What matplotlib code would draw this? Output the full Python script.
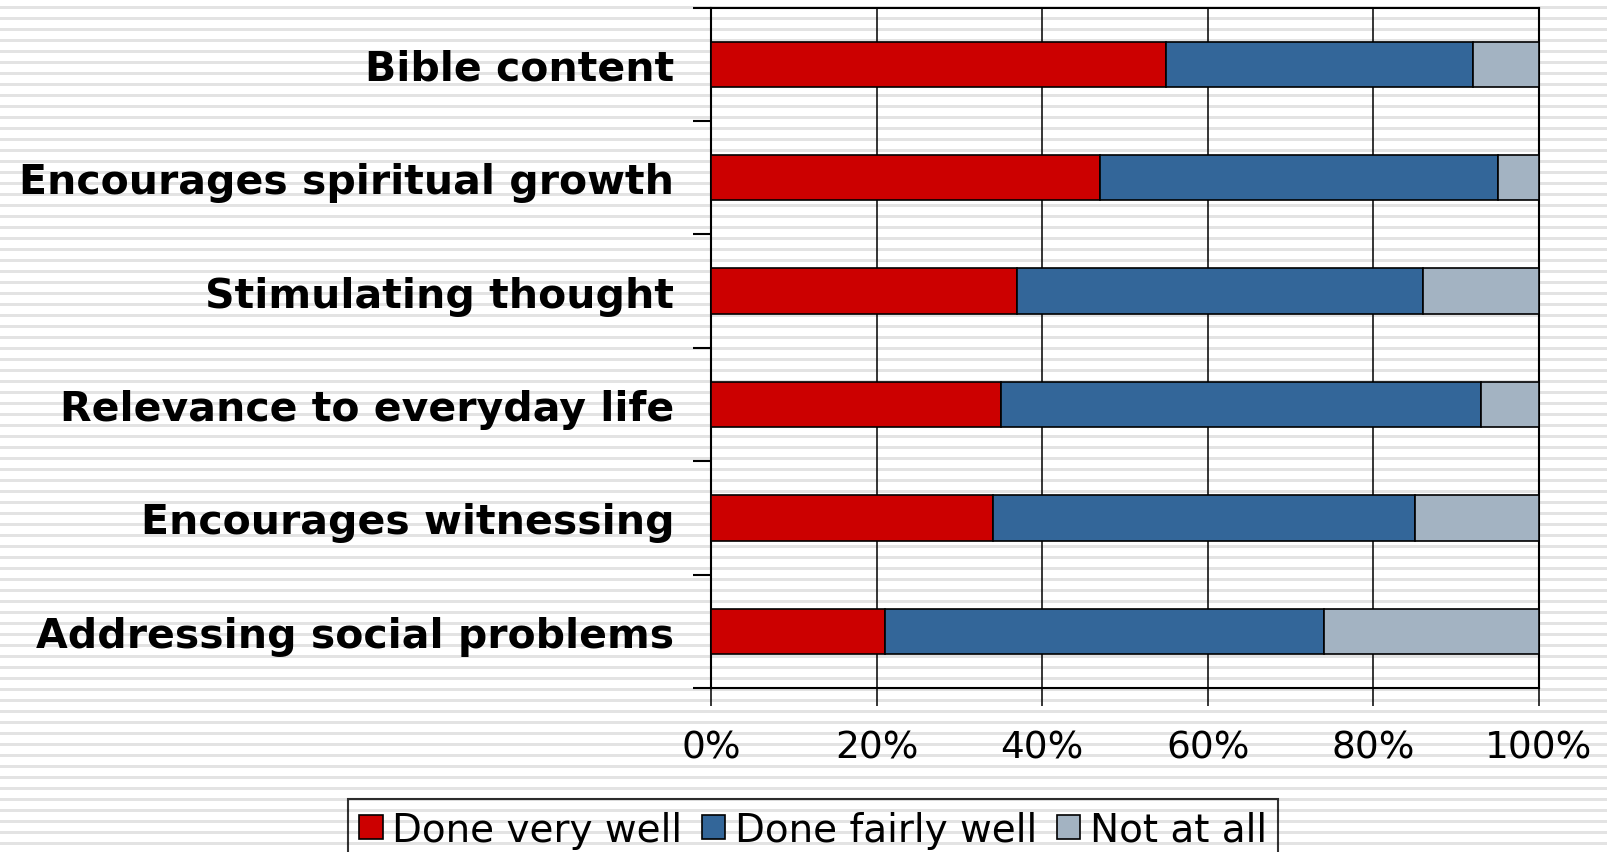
import numpy as np
import matplotlib
matplotlib.use("Agg")
import matplotlib.pyplot as plt

categories = ["Bible content", "Encourages spiritual growth", "Stimulating thought",
              "Relevance to everyday life", "Encourages witnessing", "Addressing social problems"]
very_well = [55, 47, 37, 35, 34, 21]
fairly_well = [37, 48, 49, 58, 51, 53]
not_at_all = [8, 5, 14, 7, 15, 26]
series_names = ["Done very well", "Done fairly well", "Not at all"]
colors_ = ["#cc0000", "#336699", "#a3b3c2"]
xticks = [0, 20, 40, 60, 80, 100]

W, H = 1608, 853
fig = plt.figure(figsize=(W / 100, H / 100), dpi=100)

# striped page background
bg = fig.add_axes([0, 0, 1, 1], zorder=-10)
rows = np.arange(H)
stripe = ((rows - 7) % 11) < 3
img = np.where(stripe, 0.89, 1.0)[:, None] * np.ones((H, 4))
bg.imshow(img, cmap="gray", vmin=0, vmax=1, aspect="auto", interpolation="nearest",
          extent=[0, 1, 0, 1])
bg.axis("off")

ax = fig.add_axes([711 / W, 1 - 689 / H, (1539 - 711) / W, (689 - 8.7) / H])
ax.set_facecolor("none")

y = np.arange(len(categories))
left = np.zeros(len(categories))
for vals, name, c in zip([very_well, fairly_well, not_at_all], series_names, colors_):
    ax.barh(y, vals, left=left, height=0.4, color=c, edgecolor="black",
            linewidth=1.2, label=name, zorder=3)
    left = left + np.array(vals)

ax.set_xlim(0, 100)
ax.set_ylim(len(categories) - 0.5, -0.5)
ax.set_xticks(xticks)
ax.set_xticklabels([f"{v}%" for v in xticks], fontsize=27)
ax.grid(axis="x", color="black", linewidth=1.1, zorder=1)

# category labels sit between the tick marks at the boundaries
ax.set_yticks(np.arange(len(categories) + 1) - 0.5)
ax.set_yticklabels([])
ax.set_yticks(y, minor=True)
ax.set_yticklabels(categories, minor=True, fontsize=29.5, fontweight="bold")
ax.tick_params(axis="y", which="minor", length=0, pad=26.5)
ax.tick_params(axis="y", which="major", length=13, width=1.5)
ax.tick_params(axis="x", length=13, width=1.1, pad=17)

for s in ax.spines.values():
    s.set_linewidth(1.5)

leg = fig.legend(loc="upper center", bbox_to_anchor=(813 / W, 1 - 800 / H),
                 ncol=3, frameon=True, fancybox=False, edgecolor="black",
                 facecolor="none", fontsize=28, handlelength=0.6, handleheight=0.6,
                 handletextpad=0.25, columnspacing=0.5, borderpad=0.3, borderaxespad=0)
leg.get_frame().set_linewidth(1.5)

fig.savefig("out.png", dpi=100)
